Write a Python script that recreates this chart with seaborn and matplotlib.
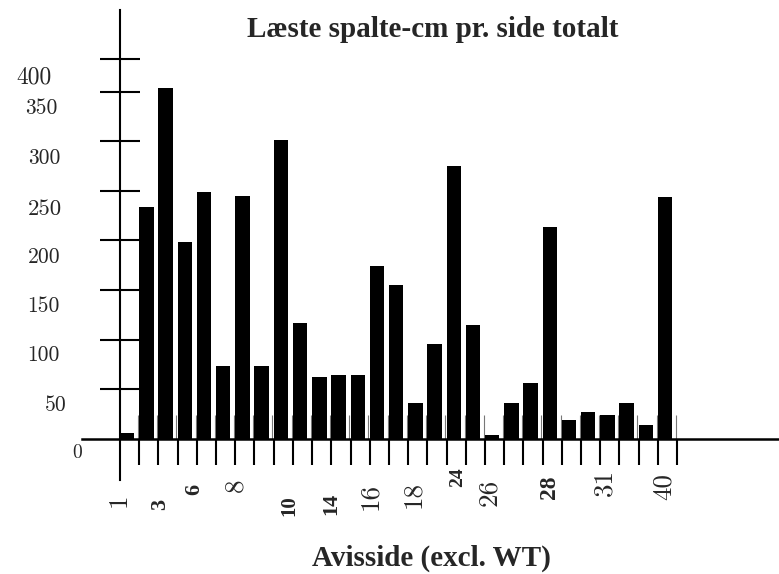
import matplotlib
matplotlib.use("Agg")
import matplotlib.pyplot as plt
import seaborn as sns
import numpy as np
import pandas as pd
from matplotlib.ticker import FixedLocator, NullFormatter

# ---------------- data ----------------
bar_index = list(range(29))
bar_values = [6, 234, 354, 198, 249, 73, 245, 73, 302, 117, 62, 64, 64, 174, 155,
              36, 95, 275, 115, 4, 36, 56, 214, 19, 27, 24, 36, 14, 244]

ytick_labels = ["0", "50", "100", "150", "200", "250", "300", "350", "400"]
ytick_marks = [50, 100, 150, 200, 250, 300, 350, 383]

xtick_labels = ["1", "3", "6", "8", "10", "14", "16", "18", "24", "26", "28", "31", "40"]
xtick_bold = [False, True, True, False, True, True, False, False, True, False, True, False, False]

title = "Læste spalte-cm pr. side totalt"
xlabel = "Avisside (excl. WT)"

# ---------------- figure ----------------
sns.set_style("white")
plt.rcParams["font.family"] = ["Liberation Serif", "DejaVu Serif"]

W, H = 779, 574
fig = plt.figure(figsize=(W / 100, H / 100), dpi=100)
ax = fig.add_axes([82 / W, 1 - 480 / H, (W - 82) / W, 470 / H])

df = pd.DataFrame({"page": bar_index, "value": bar_values})
sns.barplot(data=df, x="page", y="value", color="black", width=0.75,
            saturation=1, linewidth=0, ax=ax, zorder=1)

ax.set_xlim(-2.353, 33.93)
ax.set_ylim(-41.9, 432.8)

for s in ("top", "right"):
    ax.spines[s].set_visible(False)
ax.spines["left"].set_position(("data", -0.375))
ax.spines["bottom"].set_position(("data", 0))
ax.spines["left"].set_linewidth(1.5)
ax.spines["bottom"].set_linewidth(1.8)
ax.spines["left"].set_color("black")
ax.spines["bottom"].set_color("black")

# y ticks
ax.yaxis.set_major_locator(FixedLocator(ytick_marks))
ax.yaxis.set_major_formatter(NullFormatter())
ax.tick_params(axis="y", direction="inout", length=28.8, width=1.5, color="black", left=True)

# x ticks (bar boundaries)
n = len(bar_values)
bounds = [i - 0.375 for i in range(1, n + 1)]
bounds_up = [i - 0.44 for i in range(1, n + 1)]
ax.xaxis.remove_overlapping_locs = False
ax.xaxis.set_major_locator(FixedLocator(bounds))
ax.xaxis.set_minor_locator(FixedLocator(bounds_up))
ax.xaxis.set_major_formatter(NullFormatter())
ax.xaxis.set_minor_formatter(NullFormatter())
ax.tick_params(axis="x", which="major", direction="out", length=18.7, width=1.5,
               color="black", bottom=True)
ax.tick_params(axis="x", which="minor", direction="in", length=17.3, width=0.8,
               color="#777777", bottom=True)
ax.set_xlabel("")
ax.set_ylabel("")
ax.grid(False)


def fxy(px, py):
    return px / W, 1 - py / H


# y tick labels (placed as in reference)
ylab_pos = [(82, 453), (67, 405), (60, 355), (60, 306), (60, 257), (62, 209),
            (60, 158), (58, 108), (52, 77)]
ylab_size = [14, 15.5, 15.5, 15.5, 15.5, 16.5, 15.5, 15.5, 17]
for lab, (px, py), sz in zip(ytick_labels, ylab_pos, ylab_size):
    fig.text(*fxy(px, py), lab, ha="right", va="center", fontsize=sz,
             family=["cmr10", "Liberation Serif"])

# x tick labels
xlab_pos = [(119, 500), (160, 504), (194, 489), (236, 485), (289, 506), (331, 504),
            (370, 496), (413, 494), (458, 477), (489, 492), (550, 487), (605, 483),
            (664, 487)]
xlab_size_bold = {"3": 16, "6": 16, "10": 15, "14": 16, "24": 14, "28": 17}
for lab, (px, py), b in zip(xtick_labels, xlab_pos, xtick_bold):
    if b:
        fig.text(*fxy(px, py), lab, ha="center", va="center", rotation=90,
                 fontsize=xlab_size_bold[lab], fontweight="bold",
                 family=["Liberation Serif"])
    else:
        fig.text(*fxy(px, py), lab, ha="center", va="center", rotation=90,
                 fontsize=19.5, family=["cmr10", "Liberation Serif"])

# title and axis label
fig.text(*fxy(247, 37), title, ha="left", va="baseline", fontsize=21,
         fontweight="bold", family=["Liberation Serif"])
fig.text(*fxy(312, 566), xlabel, ha="left", va="baseline", fontsize=21,
         fontweight="bold", family=["Liberation Serif"])

fig.savefig("out.png", dpi=100)
